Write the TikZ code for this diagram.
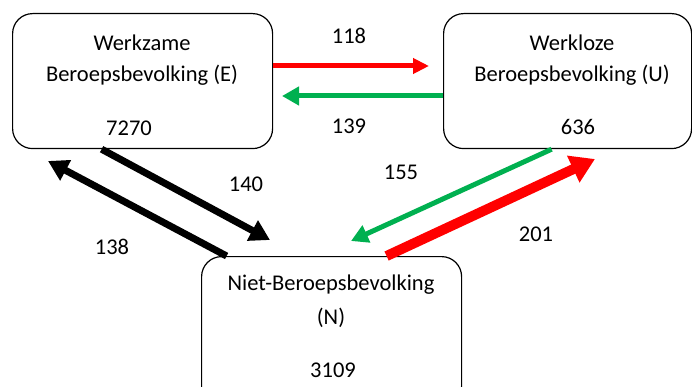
\documentclass[tikz,border=0pt]{standalone}
\usepackage{fontspec}
\setmainfont{Carlito}
\usetikzlibrary{arrows.meta}
\definecolor{flowred}{RGB}{255,0,0}
\definecolor{flowgreen}{RGB}{0,176,80}

\begin{document}
\begin{tikzpicture}[x=1pt,y=-1pt,
    font=\fontsize{22.5}{27}\selectfont,
    box/.style={draw,rounded corners=20pt,line width=1.2pt,anchor=north west},
    redflow/.style={draw=flowred,line width=5pt,-{Triangle[length=16pt,width=15pt]},fill=flowred},
    greenflow/.style={draw=flowgreen,line width=5pt,-{Triangle[length=17pt,width=18pt]},fill=flowgreen},
    blackflow/.style={draw=black,line width=7pt,-{Triangle[length=20pt,width=22pt]}},
    bigredflow/.style={draw=flowred,line width=10pt,-{Triangle[length=24pt,width=28pt]}}]
                \useasboundingbox (0,0) rectangle (692,387);
                \clip (0,0) rectangle (692,387);

                % the three groups
                \node[box,minimum width=260pt,minimum height=135pt] (E) at (12,13) {};
                \node[box,minimum width=248pt,minimum height=135pt] (U) at (443,13) {};
                \node[box,minimum width=260pt,minimum height=150pt] (N) at (201,256) {};

                \node (Ename) at (142,43) {Werkzame};
                \node (Ebev) at (142,75) {Beroepsbevolking (E)};
                \node (Enum) at (129,128) {7270};
                \node (Uname) at (572,43) {Werkloze};
                \node (Ubev) at (572,75) {Beroepsbevolking (U)};
                \node (Unum) at (578,127) {636};
                \node (Nname) at (331,285) {Niet-Beroepsbevolking};
                \node (Nlet) at (331,318) {(N)};
                \node (Nnum) at (333,370) {3109};

                % flow numbers
                \foreach \v/\x/\y in {118/349/36, 139/349/126, 140/246/184, 138/112/247, 155/401/172, 201/536/234} {
                    \node (f\v) at (\x,\y) {\v};
                }

                % arrow tips
                \coordinate (toU) at (429,66);
                \coordinate (toE) at (282,96);
                \coordinate (toNl) at (270,240);
                \coordinate (toEl) at (48,161);
                \coordinate (toNr) at (351,241);
                \coordinate (toUr) at (595,159);

                \draw[redflow] (E.east |- toU) -- (toU);
                \draw[greenflow] (U.west |- toE) -- (toE);
                \draw[blackflow] ([xshift=-41pt]E.south) -- (toNl);
                \draw[blackflow] ([xshift=-105pt]N.north) -- (toEl);
                \draw[greenflow] ([xshift=-16pt]U.south) -- (toNr);
                \draw[bigredflow] ([xshift=55pt]N.north) -- (toUr);
            \end{tikzpicture}
\end{document}
